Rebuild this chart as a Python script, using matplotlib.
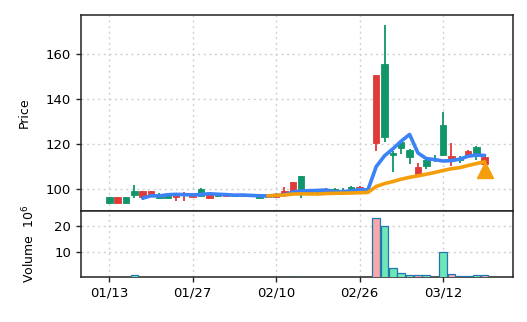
import matplotlib
matplotlib.use("Agg")
import matplotlib.pyplot as plt
import numpy as np
import pandas as pd

# ---- data (index = trading day) ----
opens  = [96.3, 93.6, 96.3, 99.0, 96.4, 97.2, 97.9, 97.8, 96.4, 97.4,
          96.6, 100.1, 95.8, 97.8, 96.8, 97.6, 96.9, 97.5, 97.2, 96.3,
          96.4, 98.0, 98.8, 105.9, 98.8, 98.6, 99.2, 100.0, 99.3, 101.1,
          99.8, 100.0, 120.5, 155.6, 116.0, 120.8, 117.4, 106.7, 113.1, 113.5,
          128.5, 113.0, 113.5, 115.3, 118.9, 111.2]
highs  = [96.6, 96.5, 96.5, 101.8, 99.0, 99.1, 98.2, 98.0, 98.3, 98.5,
          98.4, 100.3, 97.9, 98.0, 97.8, 97.8, 97.6, 97.7, 97.4, 97.5,
          98.0, 100.8, 103.0, 106.0, 99.0, 99.2, 100.3, 100.3, 100.3, 101.3,
          101.3, 100.2, 151.0, 173.0, 117.0, 121.2, 117.6, 111.5, 113.5, 115.0,
          134.4, 120.5, 114.5, 117.3, 119.0, 114.6]
lows   = [93.4, 93.4, 93.4, 96.1, 95.0, 96.8, 95.5, 96.0, 94.6, 94.6,
          96.3, 96.8, 95.5, 96.5, 96.5, 96.8, 96.6, 96.5, 95.8, 96.0,
          96.0, 97.5, 98.5, 96.2, 97.8, 98.0, 98.8, 98.5, 98.4, 99.5,
          99.5, 99.0, 117.1, 120.8, 107.7, 115.6, 111.2, 106.0, 108.7, 112.0,
          114.7, 110.4, 111.6, 114.0, 112.7, 110.8]
closes = [93.6, 96.3, 93.6, 97.2, 98.9, 98.9, 96.0, 96.2, 98.1, 98.3,
          98.2, 97.1, 97.7, 97.0, 97.5, 97.0, 97.4, 96.8, 96.2, 97.3,
          97.8, 99.0, 102.9, 98.4, 98.2, 98.3, 100.1, 98.7, 98.9, 99.8,
          101.1, 99.3, 150.8, 123.0, 115.3, 118.3, 114.1, 109.7, 110.4, 113.0,
          115.2, 114.9, 112.8, 117.1, 115.6, 114.4]
volumes = [0.2, 0.2, 0.2, 1.0, 0.2, 0.2, 0.2, 0.2, 0.2, 0.2,
           0.2, 0.2, 0.2, 0.2, 0.2, 0.2, 0.2, 0.2, 0.2, 0.2,
           0.2, 0.2, 0.3, 0.3, 0.2, 0.2, 0.2, 0.2, 0.2, 0.2,
           0.3, 0.2, 22.8, 19.9, 4.0, 2.1, 1.2, 1.2, 1.2, 0.3,
           10.0, 1.7, 0.8, 0.8, 1.2, 1.2]
signal_idx = [45]
signal_price = [108.5]
tick_labels = ["01/13", "01/27", "02/10", "02/26", "03/12"]
tick_every = 10
mav_short, mav_long = 5, 20

UP, DOWN = "#e03a3a", "#10966a"
VUP, VDOWN = "#f7a8a8", "#6ee7b5"

n = len(closes)
x = np.arange(n)
c = pd.Series(closes)
ma_s = c.rolling(mav_short).mean()
ma_l = c.rolling(mav_long).mean()

fig = plt.figure(figsize=(5.27, 3.22), dpi=100)
axp = fig.add_axes([0.1537, 0.3447, 0.8197, 0.6087])
axv = fig.add_axes([0.1537, 0.1413, 0.8197, 0.2034], sharex=axp)

for i in range(n):
    o, h, l, cl = opens[i], highs[i], lows[i], closes[i]
    col = UP if cl >= o else DOWN
    axp.vlines(x[i], l, h, color=col, lw=1.3, zorder=2)
    axp.bar(x[i], abs(cl - o) if abs(cl - o) > 0.3 else 0.3, bottom=min(o, cl),
            width=0.78, color=col, edgecolor=col, lw=0.6, zorder=3)
    axv.bar(x[i], volumes[i], width=0.9, color=VUP if cl >= o else VDOWN,
            edgecolor="#1f77b4", lw=0.9, zorder=3)

axp.plot(x, ma_s, color="#3b82f6", lw=2.6, zorder=4, solid_capstyle="round")
axp.plot(x, ma_l, color="#f59e0b", lw=2.6, zorder=4, solid_capstyle="round")
axp.plot(signal_idx, signal_price, marker="^", ms=12, color="#f59e0b",
         lw=0, zorder=5)

axp.set_xlim(-3.4, 48.4)
axp.set_ylim(90.2, 177.5)
axv.set_ylim(0.6, 25.65)
axp.set_yticks([100, 120, 140, 160])
axv.set_yticks([10, 20])
ticks = list(range(0, n, tick_every))
axv.set_xticks(ticks)
axv.set_xticklabels(tick_labels[:len(ticks)])
axp.tick_params(axis="x", which="both", length=0, labelbottom=False)

for ax in (axp, axv):
    ax.grid(True, color="#d0d0d0", ls=(0, (1.5, 2.5)), lw=1.0, zorder=0)
    ax.set_axisbelow(True)
    ax.tick_params(labelsize=9.5, color="#222222", length=3.5, width=1.0)
    for s in ax.spines.values():
        s.set_color("#222222")
        s.set_linewidth(1.1)

axp.set_ylabel("Price", fontsize=9, labelpad=11)
axv.set_ylabel("Volume  $10^{6}$", fontsize=9, labelpad=12)

fig.savefig("out.png", dpi=100)
